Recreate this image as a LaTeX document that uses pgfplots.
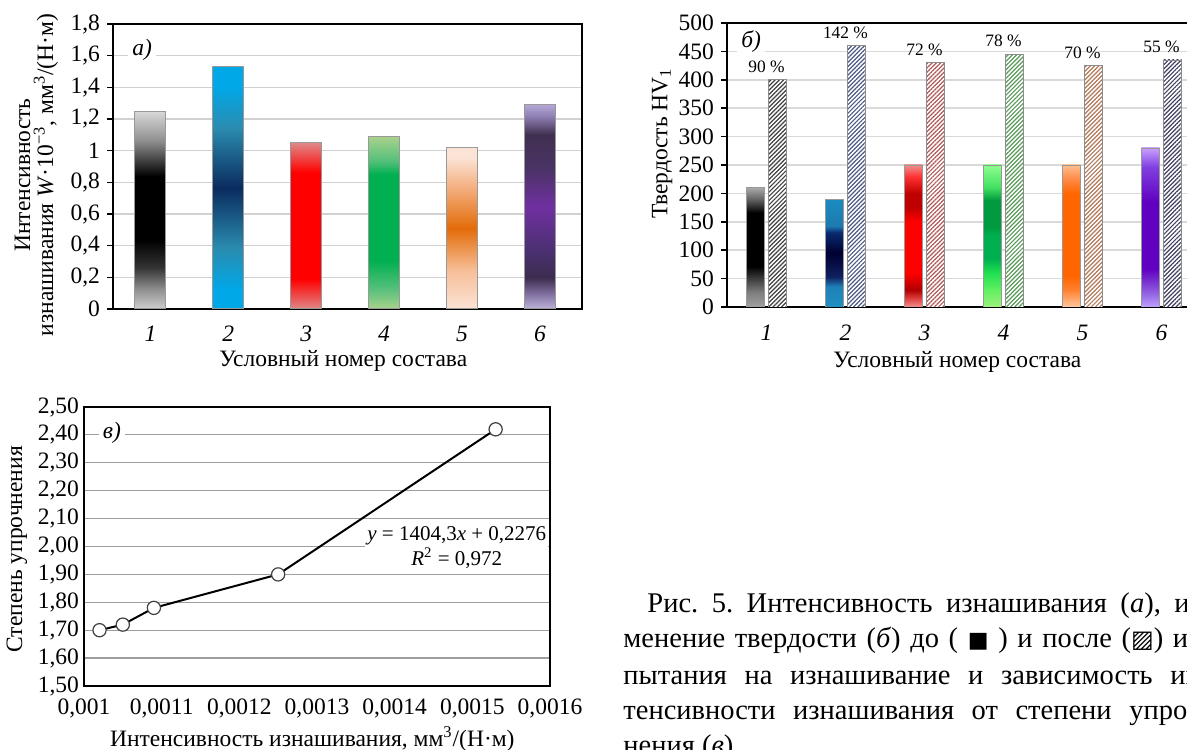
\documentclass[border=0pt]{standalone}
\usepackage{fontspec}
\setmainfont{Liberation Serif}
\newfontfamily\dvsym{DejaVu Sans}
\usepackage{pgfplots}
\pgfplotsset{compat=1.18}
\usetikzlibrary{patterns.meta}

\newcommand\cf{\fontsize{11.75}{12.5}\selectfont}
\newcommand\capf{\fontsize{14.25}{17}\selectfont}

% ---------- colours ----------
\definecolor{cyA}{HTML}{00A8E8}\definecolor{teA}{HTML}{2A8CB0}\definecolor{nvA}{HTML}{0A2C5E}
\definecolor{pkA}{HTML}{E08888}\definecolor{rdA}{HTML}{FF0000}
\definecolor{lgA}{HTML}{A9D18E}\definecolor{mgA}{HTML}{55C07A}\definecolor{gA}{HTML}{00B050}
\definecolor{p1A}{HTML}{FBE4D6}\definecolor{p2A}{HTML}{F7BE98}\definecolor{p3A}{HTML}{E36C09}\definecolor{p4A}{HTML}{F4B183}
\definecolor{v1A}{HTML}{C0B4DC}\definecolor{v2A}{HTML}{8070A0}\definecolor{v3A}{HTML}{3C2C4E}\definecolor{v4A}{HTML}{4A3070}
\definecolor{v5A}{HTML}{7030A0}\definecolor{v6A}{HTML}{4A3366}\definecolor{v7A}{HTML}{403050}\definecolor{v8A}{HTML}{8C7CB0}\definecolor{v9A}{HTML}{B4A7D6}
% panel b
\definecolor{b2a}{HTML}{2090C0}\definecolor{b2b}{HTML}{1E80B8}\definecolor{b2c}{HTML}{102060}\definecolor{b2d}{HTML}{000030}\definecolor{b2e}{HTML}{0A2A70}\definecolor{b2f}{HTML}{1E7AB0}\definecolor{b2g}{HTML}{1A8CC0}
\definecolor{b3a}{HTML}{F09090}\definecolor{b3b}{HTML}{E04040}\definecolor{b3c}{HTML}{B00000}\definecolor{b3d}{HTML}{C00000}\definecolor{b3e}{HTML}{FF3030}
\definecolor{b4a}{HTML}{A0F080}\definecolor{b4b}{HTML}{60F060}\definecolor{b4c}{HTML}{20E050}\definecolor{b4d}{HTML}{009A40}\definecolor{b4e}{HTML}{40E060}\definecolor{b4f}{HTML}{90FF90}
\definecolor{b5a}{HTML}{FFC8A0}\definecolor{b5b}{HTML}{FF8030}\definecolor{b5c}{HTML}{FF6600}\definecolor{b5d}{HTML}{FF9050}\definecolor{b5e}{HTML}{FFC090}
\definecolor{b6a}{HTML}{C0A0FF}\definecolor{b6b}{HTML}{9060E0}\definecolor{b6c}{HTML}{6000C0}\definecolor{b6d}{HTML}{8040E0}\definecolor{b6e}{HTML}{C8A0FF}
\definecolor{h1}{HTML}{404040}\definecolor{h2}{HTML}{4A5A80}\definecolor{h3}{HTML}{B05858}
\definecolor{h4}{HTML}{5A985A}\definecolor{h5}{HTML}{B07858}\definecolor{h6}{HTML}{404060}

% ---------- shadings (path spans 25bp..75bp, bottom to top) ----------
\pgfdeclareverticalshading{sa1}{100bp}{color(0bp)=(black!19); color(25bp)=(black!19); color(30bp)=(black!44); color(35.5bp)=(black!80); color(42.5bp)=(black); color(58.5bp)=(black); color(62.5bp)=(black!75); color(67.5bp)=(black!44); color(75bp)=(black!15); color(100bp)=(black!15)}
\pgfdeclareverticalshading{sa2}{100bp}{color(0bp)=(cyA); color(29bp)=(cyA); color(37.5bp)=(teA); color(50bp)=(nvA); color(62.5bp)=(teA); color(71bp)=(cyA); color(100bp)=(cyA)}
\pgfdeclareverticalshading{sa3}{100bp}{color(0bp)=(pkA); color(25bp)=(pkA); color(34bp)=(rdA); color(66bp)=(rdA); color(75bp)=(pkA); color(100bp)=(pkA)}
\pgfdeclareverticalshading{sa4}{100bp}{color(0bp)=(lgA); color(25bp)=(lgA); color(31bp)=(mgA); color(39bp)=(gA); color(64bp)=(gA); color(68bp)=(mgA); color(75bp)=(lgA); color(100bp)=(lgA)}
\pgfdeclareverticalshading{sa5}{100bp}{color(0bp)=(p1A); color(25bp)=(p1A); color(37bp)=(p2A); color(50bp)=(p3A); color(63bp)=(p4A); color(72bp)=(p1A); color(100bp)=(p1A)}
\pgfdeclareverticalshading{sa6}{100bp}{color(0bp)=(v1A); color(25bp)=(v1A); color(28.7bp)=(v2A); color(32.7bp)=(v3A); color(39bp)=(v4A); color(50bp)=(v5A); color(59.5bp)=(v6A); color(67.7bp)=(v7A); color(72bp)=(v8A); color(75bp)=(v9A); color(100bp)=(v9A)}
\pgfdeclareverticalshading{sb1}{100bp}{color(0bp)=(black!37); color(25bp)=(black!37); color(31bp)=(black!50); color(38bp)=(black!81); color(42bp)=(black); color(64.5bp)=(black); color(70bp)=(black!62); color(75bp)=(black!34); color(100bp)=(black!34)}
\pgfdeclareverticalshading{sb2}{100bp}{color(0bp)=(b2a); color(25bp)=(b2a); color(34.5bp)=(b2b); color(39bp)=(b2c); color(50bp)=(b2d); color(59.5bp)=(b2e); color(62.5bp)=(b2f); color(75bp)=(b2g); color(100bp)=(b2g)}
\pgfdeclareverticalshading{sb3}{100bp}{color(0bp)=(b3a); color(25bp)=(b3a); color(28bp)=(b3b); color(31bp)=(b3c); color(37bp)=(rdA); color(55bp)=(rdA); color(60bp)=(b3d); color(65bp)=(b3d); color(70.8bp)=(b3e); color(75bp)=(b3a); color(100bp)=(b3a)}
\pgfdeclareverticalshading{sb4}{100bp}{color(0bp)=(b4a); color(25bp)=(b4a); color(31bp)=(b4b); color(37bp)=(b4c); color(42bp)=(gA); color(50bp)=(gA); color(53.5bp)=(b4d); color(62.5bp)=(b4d); color(67bp)=(b4e); color(75bp)=(b4f); color(100bp)=(b4f)}
\pgfdeclareverticalshading{sb5}{100bp}{color(0bp)=(b5a); color(25bp)=(b5a); color(31bp)=(b5b); color(36bp)=(b5c); color(65bp)=(b5c); color(70.8bp)=(b5d); color(75bp)=(b5e); color(100bp)=(b5e)}
\pgfdeclareverticalshading{sb6}{100bp}{color(0bp)=(b6a); color(25bp)=(b6a); color(29.5bp)=(b6b); color(37bp)=(b6c); color(58bp)=(b6c); color(69bp)=(b6d); color(75bp)=(b6e); color(100bp)=(b6e)}

\pgfplotsset{
  barA/.style={ybar, bar width=0.4, bar shift=0, draw=black!40, line width=0.5pt, shading=#1},
  barB/.style={ybar, bar width=0.23, bar shift=-0.14, draw=black!40, line width=0.4pt, shading=#1},
  hatW/.style={ybar, bar width=0.23, bar shift=0.14, draw=none, fill=white},
  hatP/.style={ybar, bar width=0.23, bar shift=0.14, draw=black!45, line width=0.4pt,
     pattern color=#1, pattern={Lines[angle=45,distance=1.5pt,line width=0.6pt]},
     nodes near coords, point meta=explicit symbolic,
     every node near coord/.append style={font=\fontsize{8.7}{9}\selectfont, text=black}},
}

\begin{document}
\frenchspacing
\begin{tikzpicture}
\useasboundingbox (0,0) rectangle (593.5pt,374.5pt);
\clip (0,0) rectangle (593.5pt,374.5pt);

% ================= panel a =================
\begin{axis}[
  at={(56.5pt,220pt)}, anchor=south west, scale only axis,
  width=234.5pt, height=142.5pt,
  xmin=0.52, xmax=6.54, ymin=0, ymax=1.8,
  xtick={1,2,3,4,5,6},
  xticklabels={\textit{1},\textit{2},\textit{3},\textit{4},\textit{5},\textit{6}},
  ytick={0,0.2,0.4,0.6,0.8,1,1.2,1.4,1.6,1.8},
  yticklabels={0,{0,2},{0,4},{0,6},{0,8},1,{1,2},{1,4},{1,6},{1,8}},
  ymajorgrids, grid style={black!18, line width=0.8pt},
  axis line style={line width=1pt},
  tick align=outside, ytick pos=left, xtick style={draw=none},
  ytick style={black, line width=0.8pt}, major tick length=3pt,
  tick label style={font=\cf},
  xticklabel style={yshift=-2pt},
  xlabel={Условный номер состава},
  xlabel style={font=\cf, at={(axis description cs:0.491,-0.184)}, anchor=center},
  ylabel={Интенсивность\\изнашивания \textit{W}·10\textsuperscript{−3}, мм\textsuperscript{3}/(Н·м)},
  ylabel style={font=\fontsize{11.75}{11.5}\selectfont, align=center, at={(axis description cs:-0.163,0.47)}, anchor=center},
]
\addplot[barA=sa1] coordinates {(1,1.25)};
\addplot[barA=sa2] coordinates {(2,1.53)};
\addplot[barA=sa3] coordinates {(3,1.05)};
\addplot[barA=sa4] coordinates {(4,1.09)};
\addplot[barA=sa5] coordinates {(5,1.02)};
\addplot[barA=sa6] coordinates {(6,1.29)};
\node[fill=white, inner sep=2pt, font=\cf\itshape] at (axis description cs:0.062,0.909) {а)};
\end{axis}

% ================= panel b =================
\begin{axis}[
  at={(363.5pt,221pt)}, anchor=south west, scale only axis,
  width=237pt, height=142pt,
  xmin=0.5, xmax=6.5, ymin=0, ymax=500,
  xtick={1,2,3,4,5,6},
  xticklabels={\textit{1},\textit{2},\textit{3},\textit{4},\textit{5},\textit{6}},
  ytick={0,50,100,150,200,250,300,350,400,450,500},
  yticklabels={0,50,100,150,200,250,300,350,400,450,500},
  ymajorgrids, grid style={black!15, line width=0.8pt},
  axis line style={line width=1pt},
  tick align=outside, ytick pos=left, xtick style={draw=none},
  ytick style={black, line width=0.8pt}, major tick length=3pt,
  tick label style={font=\cf},
  xticklabel style={yshift=-2.5pt},
  xlabel={Условный номер состава},
  xlabel style={font=\cf, at={(axis description cs:0.486,-0.192)}, anchor=center},
  ylabel={Твердость HV\textsubscript{1}},
  ylabel style={font=\cf, at={(axis description cs:-0.137,0.576)}, anchor=center},
]
\addplot[barB=sb1] coordinates {(1,210)};
\addplot[barB=sb2] coordinates {(2,190)};
\addplot[barB=sb3] coordinates {(3,250)};
\addplot[barB=sb4] coordinates {(4,250)};
\addplot[barB=sb5] coordinates {(5,250)};
\addplot[barB=sb6] coordinates {(6,280)};
\addplot[hatW] coordinates {(1,400) (2,460) (3,430) (4,445) (5,425) (6,435)};
\addplot[hatP=h1] coordinates {(1,400) [90~\%]};
\addplot[hatP=h2] coordinates {(2,460) [142~\%]};
\addplot[hatP=h3] coordinates {(3,430) [72~\%]};
\addplot[hatP=h4] coordinates {(4,445) [78~\%]};
\addplot[hatP=h5] coordinates {(5,425) [70~\%]};
\addplot[hatP=h6] coordinates {(6,435) [55~\%]};
\node[fill=white, inner sep=2pt, font=\cf\itshape] at (axis description cs:0.051,0.933) {б)};
\end{axis}

% ================= panel v =================
\begin{axis}[
  at={(42pt,31.5pt)}, anchor=south west, scale only axis,
  width=233pt, height=139.5pt,
  xmin=0.001, xmax=0.0016, ymin=1.5, ymax=2.5,
  scaled x ticks=false,
  xtick={0.001,0.0011,0.0012,0.0013,0.0014,0.0015,0.0016},
  xticklabels={{0,001},{0,0011},{0,0012},{0,0013},{0,0014},{0,0015},{0,0016}},
  ytick={1.5,1.6,1.7,1.8,1.9,2.0,2.1,2.2,2.3,2.4,2.5},
  yticklabels={{1,50},{1,60},{1,70},{1,80},{1,90},{2,00},{2,10},{2,20},{2,30},{2,40},{2,50}},
  ymajorgrids, grid style={black!38, line width=0.6pt},
  axis line style={line width=1pt},
  tick style={draw=none},
  tick label style={font=\cf},
  xticklabel style={yshift=-3pt},
  yticklabel style={xshift=1pt},
  xlabel={Интенсивность изнашивания, мм\textsuperscript{3}/(Н·м)},
  xlabel style={font=\cf, at={(axis description cs:0.49,-0.19)}, anchor=center},
  ylabel={Степень упрочнения},
  ylabel style={font=\cf, at={(axis description cs:-0.144,0.49)}, anchor=center},
]
\addplot[black, line width=1pt, mark=*, mark size=3.3pt,
  mark options={fill=white, draw=black!75, line width=0.6pt}]
  coordinates {(0.00102,1.70) (0.00105,1.72) (0.00109,1.78) (0.00125,1.90) (0.00153,2.42)};
\node[fill=white, inner sep=2pt, font=\cf\itshape] at (axis description cs:0.06,0.907) {в)};
\node[fill=white, inner sep=1pt, align=center, font=\fontsize{10.5}{12.5}\selectfont]
  at (axis description cs:0.8,0.496)
  {\textit{y} = 1404,3\textit{x} + 0,2276\\\textit{R}\textsuperscript{2} = 0,972};
\end{axis}

% ================= caption =================
\node[anchor=base west, inner sep=0, font=\capf] at (323.5pt,68pt)
  {\makebox[281.5pt][s]{Рис. 5. Интенсивность изнашивания (\textit{а}), из-}};
\node[anchor=base west, inner sep=0, font=\capf] at (311.5pt,50.5pt)
  {\makebox[293.5pt][s]{менение твердости (\textit{б}) до ( {\dvsym\fontsize{11}{12}\selectfont ■} ) и после ({\dvsym\fontsize{12}{12}\selectfont ▨}) ис-}};
\node[anchor=base west, inner sep=0, font=\capf] at (311.5pt,32.5pt)
  {\makebox[293.5pt][s]{пытания на изнашивание и зависимость ин-}};
\node[anchor=base west, inner sep=0, font=\capf] at (311.5pt,15pt)
  {\makebox[293.5pt][s]{тенсивности изнашивания от степени упроч-}};
\node[anchor=base west, inner sep=0, font=\capf] at (311.5pt,-2.5pt)
  {нения (\textit{в}).};
\end{tikzpicture}
\end{document}
